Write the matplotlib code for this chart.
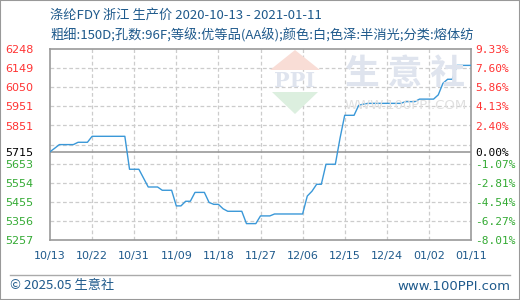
import datetime as dt
import matplotlib
matplotlib.use("Agg")
import matplotlib.pyplot as plt
from matplotlib.patches import Polygon, Rectangle

plt.rcParams['font.family'] = ['Noto Sans CJK SC', 'DejaVu Sans']

start = dt.date(2020, 10, 13)
# daily price, 2020-10-13 .. 2021-01-11
prices = [5715, 5733, 5752, 5752, 5752, 5752, 5764, 5764, 5764, 5795,
          5795, 5795, 5795, 5795, 5795, 5795, 5795, 5624, 5624, 5624,
          5578, 5532, 5532, 5532, 5515, 5515, 5515, 5434, 5434, 5458,
          5458, 5504, 5504, 5504, 5452, 5442, 5442, 5419, 5406, 5406,
          5406, 5406, 5342, 5342, 5342, 5382, 5382, 5382, 5392, 5392,
          5392, 5392, 5392, 5392, 5392, 5485, 5510, 5546, 5546, 5650,
          5650, 5650, 5785, 5904, 5904, 5904, 5956, 5962, 5966, 5966,
          5966, 5966, 5966, 5966, 5966, 5966, 5975, 5975, 5975, 5988,
          5988, 5988, 5988, 6010, 6070, 6091, 6091, 6163, 6163, 6163,
          6163]
dates = [start + dt.timedelta(days=i) for i in range(len(prices))]

base = 5715
ymin, ymax = 5257, 6248
left_labels = [6248, 6149, 6050, 5951, 5851, 5715, 5653, 5554, 5455, 5356, 5257]
right_labels = ['9.33%', '7.60%', '5.86%', '4.13%', '2.40%', '0.00%',
                '-1.07%', '-2.81%', '-4.54%', '-6.27%', '-8.01%']
xtick_labels = ['10/13', '10/22', '10/31', '11/09', '11/18', '11/27',
                '12/06', '12/15', '12/24', '01/02', '01/11']
title1 = '涤纶FDY 浙江 生产价 2020-10-13 - 2021-01-11'
title2 = '粗细:150D;孔数:96F;等级:优等品(AA级);颜色:白;色泽:半消光;分类:熔体纺'

W, H = 520, 300
fig = plt.figure(figsize=(W / 100, H / 100), dpi=100)
ax = fig.add_axes([50 / W, (H - 240) / H, 421 / W, 191 / H])

tcol = '#1f5a8c'
red, green = '#ff3333', '#33aa33'


def px(x, y):
    return x / W, 1 - y / H


# watermark
wm = '#dfe4ee'
fig.patches.append(Polygon([px(295, 50), px(270, 70), px(320, 70)], closed=True,
                           transform=fig.transFigure, fc='#f9ddd6', ec='none', zorder=0))
fig.patches.append(Polygon([px(272, 92), px(318, 92), px(295, 114)], closed=True,
                           transform=fig.transFigure, fc='#dcefdf', ec='none', zorder=0))
fig.text(*px(295, 81), 'PPI', color=wm, fontsize=15, fontweight='bold',
         ha='center', va='center', family='DejaVu Serif', zorder=0)
fig.text(*px(405, 73), '生 意 社', color=wm, fontsize=25, fontweight='bold',
         ha='center', va='center', zorder=0)
fig.text(*px(406, 106), 'WWW.100PPI.COM', color='#e0e0e0', fontsize=9.5,
         ha='center', va='center', family='DejaVu Sans', zorder=0)
ax.patch.set_alpha(0)

# grid
step = (ymax - ymin) / 10
for k in range(1, 10):
    ax.axhline(ymin + k * step, color='#cccccc', lw=0.9, ls=(0, (3, 2)), zorder=1)
xt = [start + dt.timedelta(days=9 * i) for i in range(11)]
for d in xt[1:-1]:
    ax.axvline(d, color='#cccccc', lw=0.9, ls=(0, (3, 2)), zorder=1)
ax.axhline(base, color='#999999', lw=1.2, zorder=2)

ax.plot(dates, prices, color='#3a98d8', lw=1.0, zorder=3)

ax.set_xlim(dates[0], dates[-1])
ax.set_ylim(ymin, ymax)
for s in ax.spines.values():
    s.set_color('#999999')
    s.set_linewidth(1.2)

ax.set_xticks(xt)
ax.set_xticklabels(xtick_labels, color=tcol, fontsize=8, family='DejaVu Sans')
ax.set_yticks(left_labels)
ax.set_yticklabels([str(v) for v in left_labels], fontsize=8, family='DejaVu Sans',
                   ha='left')
ax.tick_params(axis='y', length=0, pad=32)
ax.tick_params(axis='x', length=0, pad=8)
for lab, v in zip(ax.get_yticklabels(), left_labels):
    lab.set_color(red if v > base else (green if v < base else 'black'))

ax2 = ax.twinx()
ax2.set_ylim(ymin, ymax)
ax2.set_yticks(left_labels)
ax2.set_yticklabels(right_labels, fontsize=8, family='DejaVu Sans Mono')
ax2.tick_params(length=0, pad=3)
for s in ax2.spines.values():
    s.set_visible(False)
for lab, v in zip(ax2.get_yticklabels(), left_labels):
    lab.set_color(red if v > base else (green if v < base else 'black'))

fig.text(*px(50, 15), title1, color=tcol, fontsize=9.5, va='center')
fig.text(*px(50, 35), title2, color=tcol, fontsize=9.5, va='center')

fig.add_artist(plt.Line2D([10 / W, 510 / W], [1 - 275 / H] * 2, color='#aaaaaa',
                          lw=1, transform=fig.transFigure))
fig.text(*px(10, 286), '© 2025.05 生意社', color=tcol, fontsize=9.5, va='center')
fig.text(*px(510, 286), 'www.100PPI.com', color=tcol, fontsize=9.5, va='center',
         ha='right', family='DejaVu Sans')
fig.patches.append(Rectangle((0, 0), 1, 1, transform=fig.transFigure, fill=False,
                             ec='#999999', lw=1.5))

fig.savefig('out.png', dpi=100)
